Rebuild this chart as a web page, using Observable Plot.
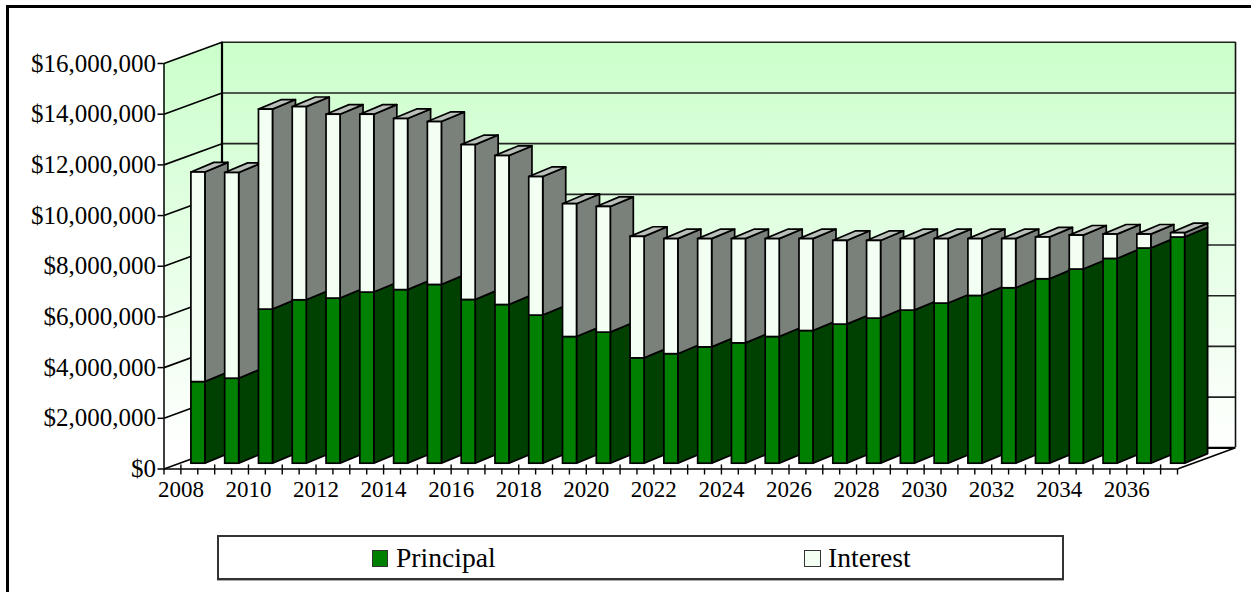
<!DOCTYPE html>
<html><head><meta charset="utf-8">
<script src="https://cdn.jsdelivr.net/npm/d3@7"></script>
<script src="https://cdn.jsdelivr.net/npm/@observablehq/plot@0.6"></script>
<style>
html,body{margin:0;padding:0;background:#fff;width:1251px;height:592px;overflow:hidden}
#frame{position:absolute;left:6px;top:5px;right:-10px;bottom:-10px;border-top:3px solid #000;border-left:3px solid #000}
#chart{position:absolute;left:0;top:0}
#chart svg{display:block}
#legend{position:absolute;left:217px;top:535px;width:842.5px;height:41px;border:2px solid #333;box-shadow:0 1px 0 #aaa;background:#fff;font-family:"Liberation Serif",serif;font-size:27.6px;color:#000}
.sw{position:absolute;top:12.5px;width:14.5px;height:15px;border:1px solid #333}
.lb{position:absolute;top:5px;line-height:32px;white-space:nowrap}
</style></head><body>
<div id="frame"></div><div id="chart"></div>
<div id="legend">
<div class="sw" id="s0" style="left:152.5px"></div><div class="lb" id="l0" style="left:177px"></div>
<div class="sw" id="s1" style="left:585px"></div><div class="lb" id="l1" style="left:609px"></div>
</div>
<script>
const seriesNames = ["Principal", "Interest"];
const years = d3.range(2008, 2038);
const principal = [3.22,3.354,6.08,6.448,6.515,6.752,6.85,7.053,6.46,6.262,5.844,4.998,5.172,4.156,4.322,4.591,4.749,4.998,5.235,5.488,5.725,6.041,6.318,6.618,6.922,7.278,7.661,8.08,8.491,8.925];
const interest = [8.27,8.116,7.89,7.622,7.255,7.018,6.75,6.427,6.11,5.878,5.466,5.242,4.958,4.794,4.538,4.269,4.111,3.862,3.625,3.302,3.065,2.819,2.542,2.242,1.938,1.647,1.339,0.96,0.549,0.17];
const yTicks = [0,2,4,6,8,10,12,14,16];
const labelYears = years.filter(y => y % 2 === 0);

const colFront = ["#008000", "#f3fff3"];
const colSide = ["#004000", "#7a807a"];
const colTop = "#b9bfb9";

// 3-D projection expressed in data units (years, $M)
const wallDX = 58 / 33.78, wallDY = 21.2 / 25.34;
const barDX = 23 / 33.78, barDY = 9.6 / 25.34;
const barInset = 27.4 / 33.78, barW = 14 / 33.78, baseY = 5.3 / 25.34;
const M = 1e6;
const x0 = 2007.5, x1 = 2037.5;

const fronts = [], sides = [], tops = [];
years.forEach((yr, i) => {
  const l = yr - 0.5 + barInset, r = l + barW;
  let v = baseY;
  [principal[i], interest[i]].forEach((val, k) => {
    const a = v, b = v + val;
    fronts.push({l, r, a, b, k});
    const id = `${yr}-${k}`;
    sides.push({id, k, x: r, a, b});
    sides.push({id, k, x: r + barDX, a: a + barDY, b: b + barDY});
    if (k === 1) {
      tops.push({id, l, r, y: b});
      tops.push({id, l: l + barDX, r: r + barDX, y: b + barDY});
    }
    v = b;
  });
});
const sideWall = [
  {x: x0, a: 0, b: 16},
  {x: x0 + wallDX, a: wallDY, b: 16 + wallDY}
];
const floor = [
  {l: x0, r: x1, y: 0},
  {l: x0 + wallDX, r: x1 + wallDX, y: wallDY}
];
const sW = 1.7;
const plot = Plot.plot({
  width: 1251, height: 592,
  marginLeft: 163.5, marginRight: 74, marginTop: 63, marginBottom: 123.5,
  style: {fontFamily: '"Liberation Serif", serif', background: "transparent", color: "#000"},
  x: {domain: [x0, x1], axis: null},
  y: {domain: [0, 16], axis: null},
  marks: [
    Plot.rect([0], {x1: x0 + wallDX, x2: x1 + wallDX, y1: wallDY, y2: 16 + wallDY, fill: "url(#wall)"}),
    Plot.area(sideWall, {x1: "x", x2: "x", y1: "a", y2: "b", fill: "url(#wall)"}),
    Plot.area(floor, {x1: "l", x2: "r", y1: "y", y2: "y", fill: "#fff"}),
    // gridlines on both walls
    Plot.ruleY(yTicks, {y: d => d + wallDY, x1: x0 + wallDX, x2: x1 + wallDX, stroke: "#222", strokeWidth: 1.6}),
    Plot.link(yTicks, {x1: x0, y1: d => d, x2: x0 + wallDX, y2: d => d + wallDY, stroke: "#000", strokeWidth: 1.6}),
    Plot.ruleX([x0 + wallDX], {y1: wallDY, y2: 16 + wallDY, stroke: "#000", strokeWidth: 2.2}),
    Plot.ruleX([x1 + wallDX], {y1: wallDY, y2: 16 + wallDY, stroke: "#111", strokeWidth: 1.6}),
    Plot.link([0], {x1: x1, y1: 0, x2: x1 + wallDX, y2: wallDY, stroke: "#000", strokeWidth: 1.5}),
    Plot.ruleY([wallDY], {x1: x0 + wallDX, x2: x1 + wallDX, stroke: "#000", strokeWidth: 2.2}),
    // axes
    Plot.ruleX([x0], {y1: 0, y2: 16, stroke: "#000", strokeWidth: 1.5}),
    Plot.ruleY([0], {x1: x0, x2: x1, stroke: "#000", strokeWidth: 1.6}),
    Plot.axisY({ticks: yTicks, tickFormat: d => d3.format("$,")(d * M), tickSize: 6, tickPadding: 2, fontSize: 25, strokeWidth: 1.5, label: null}),
    Plot.axisX({ticks: d3.range(x0, x1 + 0.25, 0.5), tickFormat: () => "", tickSize: 6, strokeWidth: 1.4, label: null}),
    Plot.ruleX(years, {y1: 0, y2: 0.16, stroke: "#000", strokeWidth: 1.4}),
    Plot.axisX({ticks: labelYears, tickFormat: "d", tickSize: 0, tickPadding: 12, fontSize: 23, label: null, style: {letterSpacing: "-1px"}}),
    // bars: sides, tops, then fronts
    Plot.area(sides, {x1: "x", x2: "x", y1: "a", y2: "b", z: "id", fill: d => colSide[d.k], stroke: "#000", strokeWidth: sW}),
    Plot.area(tops, {x1: "l", x2: "r", y1: "y", y2: "y", z: "id", fill: colTop, stroke: "#000", strokeWidth: sW}),
    Plot.rect(fronts, {x1: "l", x2: "r", y1: "a", y2: "b", fill: d => colFront[d.k], stroke: "#000", strokeWidth: sW})
  ]
});
const defs = d3.select(plot).insert("defs", ":first-child");
const g = defs.append("linearGradient").attr("id", "wall").attr("gradientUnits", "userSpaceOnUse")
  .attr("x1", 0).attr("x2", 0).attr("y1", 50).attr("y2", 450);
g.append("stop").attr("offset", 0).attr("stop-color", "#ccffcc");
g.append("stop").attr("offset", 1).attr("stop-color", "#ffffff");
document.getElementById("chart").appendChild(plot);
seriesNames.forEach((n, i) => {
  document.getElementById("l" + i).textContent = n;
  document.getElementById("s" + i).style.background = colFront[i];
});
</script>
</body></html>
